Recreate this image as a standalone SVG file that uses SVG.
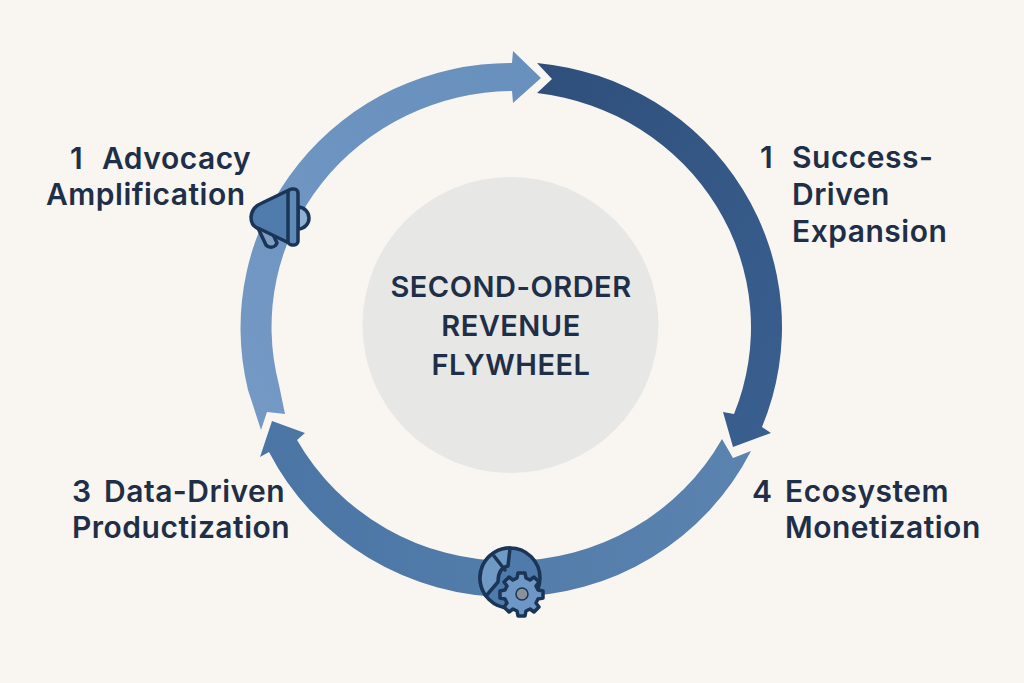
<svg xmlns="http://www.w3.org/2000/svg" width="1024" height="683" viewBox="0 0 1024 683">
<style>
.l{font-family:Inter,"Liberation Sans",sans-serif;font-size:30px;font-weight:600;fill:#1f2f48;letter-spacing:.5px}
.c{font-family:Inter,"Liberation Sans",sans-serif;font-size:29px;font-weight:600;fill:#1f2f48;text-anchor:middle;letter-spacing:.5px}
.k{stroke:#1b3557;stroke-width:3.500;stroke-linejoin:round;stroke-linecap:round}
.seg{stroke-linejoin:round}
</style>
<defs>
<linearGradient id="gl" x1="0" y1="1" x2="1" y2="0"><stop offset="0" stop-color="#7699c5"/><stop offset=".6" stop-color="#6c93c0"/><stop offset="1" stop-color="#6890bd"/></linearGradient>
<linearGradient id="gd" x1="0" y1="0" x2="1" y2="1"><stop offset="0" stop-color="#2f4f7b"/><stop offset="1" stop-color="#3a6090"/></linearGradient>
<linearGradient id="gb" x1="1" y1="0" x2="0" y2="0"><stop offset="0" stop-color="#5b83b0"/><stop offset="1" stop-color="#4a75a4"/></linearGradient>
</defs>
<rect width="1024" height="683" fill="#f9f6f1"/>
<g id="hub"><circle cx="510.500" cy="325" r="148" fill="#e7e7e6"/>
<text class="c" x="511" y="297">SECOND-ORDER</text>
<text class="c" x="511" y="336">REVENUE</text>
<text class="c" x="511" y="375">FLYWHEEL</text></g>
<g id="connectors">
<path class="seg" fill="url(#gl)" d="M267 412L261 430L248 390A270 265 0 0 1 512 63L513 51L541 78L513 103L512 91A243 236 0 0 0 279 385L285 414Z"/>
<path class="seg" fill="url(#gd)" d="M537 63A270 265 0 0 1 762 427L771 433L733 447L723 412L734 414A243 236 0 0 0 537 93L552 79Z"/>
<path class="seg" fill="url(#gb)" d="M722 439L733 458L751 451A270 265 0 0 1 269 452L260 457L272 421L305 433L297 440A243 236 0 0 0 722 439Z"/>
</g>
<g id="label-advocacy"><text class="l" x="70" y="169">1</text><text class="l" x="102" y="169">Advocacy</text><text class="l" x="46" y="205">Amplification</text></g>
<g id="label-success"><text class="l" x="760" y="168">1</text><text class="l" x="792" y="168">Success-</text><text class="l" x="792" y="205">Driven</text><text class="l" x="792" y="242">Expansion</text></g>
<g id="label-ecosystem"><text class="l" x="752" y="502">4</text><text class="l" x="785" y="502">Ecosystem</text><text class="l" x="785" y="538">Monetization</text></g>
<g id="label-data"><text class="l" x="72" y="502">3</text><text class="l" x="104" y="502">Data-Driven</text><text class="l" x="72" y="538">Productization</text></g>
<g id="icon-megaphone">
<path class="k" d="M298 207A11 11 0 0 1 298 229Z" fill="#8fb0d5"/>
<path class="k" d="M258 228L266 245A6.500 6.500 0 0 0 277 243L272 232Z" fill="#7e9ec5"/>
<path class="k" d="M262 203Q252 207 251 217Q251 227 260 229L289 243V190Z" fill="#4f7cad"/>
<rect class="k" x="288" y="189" width="10" height="56" rx="4" fill="#5f8ab8"/>
</g>
<g id="icon-gear">
<circle class="k" cx="510" cy="578" r="30" fill="#4f7bac"/>
<path class="k" d="M510 548A30 30 0 0 0 486 596L498 582Q498 568 508 566Z" fill="#7199c5"/>
<path class="k" d="M494 556L505 570" fill="none"/>
<path class="k" fill="#6f97c6" d="M518 573h7l1 5 4 2 4-3 5 5-3 4 2 4 5 1v7l-5 1-2 4 3 4-5 5-4-3-4 2-1 5h-7l-1-5-4-2-4 3-5-5 3-4-2-4-5-1v-7l5-1 2-4-3-4 5-5 4 3 4-2z"/>
<circle cx="522" cy="594" r="6" fill="#8b9199" stroke="#1b3557" stroke-width="1.500"/>
</g>
</svg>
